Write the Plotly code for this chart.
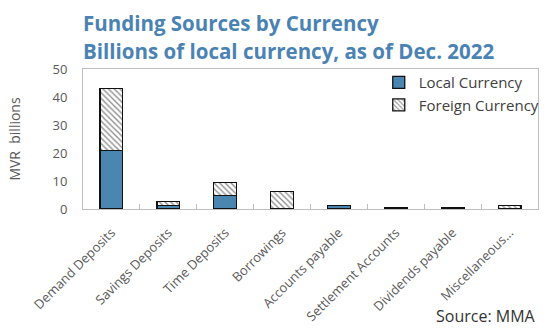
import plotly.graph_objects as go

categories = ["Demand Deposits", "Savings Deposits", "Time Deposits", "Borrowings",
              "Accounts payable", "Settlement Accounts", "Dividends payable", "Miscellaneous..."]
local_currency = [21.0, 1.3, 4.7, 0.0, 1.2, 0.4, 0.4, 0.3]
foreign_currency = [22.0, 1.4, 4.8, 6.2, 0.1, 0.0, 0.0, 0.9]
title_lines = ["Funding Sources by Currency", "Billions of local currency, as of Dec. 2022"]

title_color = "#4a83b3"
axis_text = "#595959"
font_family = "Open Sans, Noto Sans, sans-serif"

fig = go.Figure()
fig.add_trace(go.Bar(
    x=categories, y=local_currency, name="Local Currency", legendgroup="local",
    marker=dict(color="#4a86b0", line=dict(color="#111111", width=1.3)),
))
fig.add_trace(go.Bar(
    x=categories, y=foreign_currency, name="Foreign Currency", legendgroup="foreign",
    marker=dict(color="white", line=dict(color="#111111", width=1.3),
                pattern=dict(shape="\\", fgcolor="#222222", bgcolor="white",
                             size=4, solidity=0.35)),
))

fig.update_layout(
    width=549, height=328,
    barmode="stack", bargap=0.6,
    paper_bgcolor="white", plot_bgcolor="white",
    margin=dict(l=83, r=4, t=69, b=119),
    font=dict(family=font_family, color=axis_text),
    legend=dict(
        x=0.65, y=1.02, xanchor="left", yanchor="top",
        font=dict(size=15, color="#404040"),
        bgcolor="rgba(0,0,0,0)", traceorder="normal",
        itemwidth=30, tracegroupgap=8,
    ),
    showlegend=True,
)

# Two-line chart heading, placed above the plot area
for text, ypos in zip(title_lines, [1.33, 1.13]):
    fig.add_annotation(
        text=f"<b>{text}</b>", xref="paper", yref="paper", x=-0.005, y=ypos,
        xanchor="left", yanchor="middle", showarrow=False,
        font=dict(family=font_family, size=20.5, color=title_color),
    )

fig.update_xaxes(
    showline=True, linecolor="#bfbfbf", linewidth=1, mirror=True,
    ticks="inside", tickson="boundaries", ticklen=5, tickcolor="#bfbfbf",
    tickangle=-45, tickfont=dict(size=13, color=axis_text),
    ticklabelstandoff=10, automargin=False, showgrid=False,
)
fig.update_yaxes(
    range=[0, 50], dtick=10, showline=True, linecolor="#bfbfbf", linewidth=1, mirror=True,
    showgrid=False, ticks="", tickfont=dict(size=13, color=axis_text),
    ticklabelstandoff=12, automargin=False,
    title=dict(text="MVR  billions", font=dict(size=14, color=axis_text), standoff=28),
)

fig.add_annotation(
    text="Source: MMA", xref="paper", yref="paper", x=1.0, y=-0.855,
    xanchor="right", yanchor="bottom", showarrow=False,
    font=dict(size=16, color="#333333"),
)

fig.write_html("out.html")
